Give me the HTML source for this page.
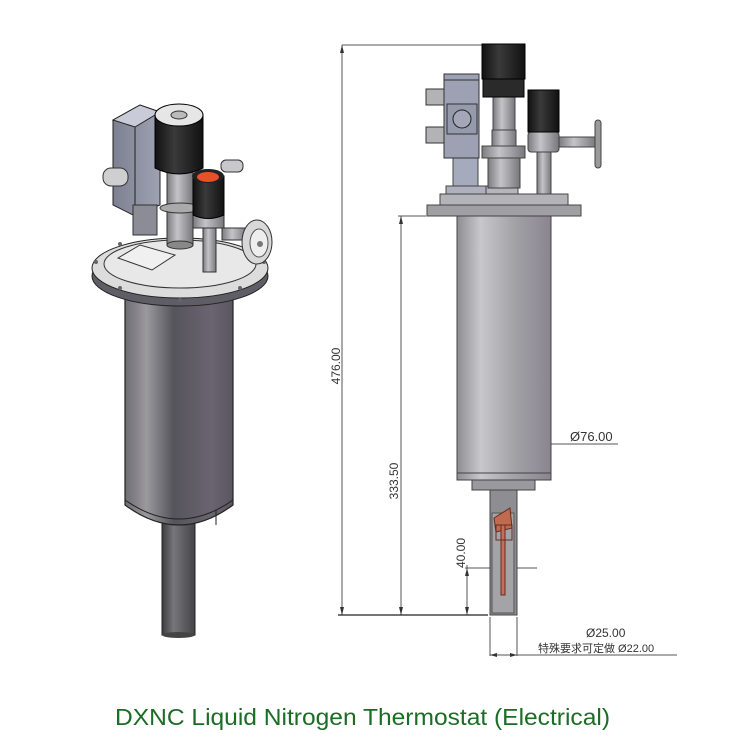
<!DOCTYPE html>
<html><head><meta charset="utf-8"><style>html,body{margin:0;padding:0;background:#fff;width:750px;height:750px;overflow:hidden}</style></head>
<body>
<svg width="750" height="750" viewBox="0 0 750 750" xmlns="http://www.w3.org/2000/svg">
<defs>
<linearGradient id="cyl" x1="0" x2="1"><stop offset="0" stop-color="#6e6d74"/><stop offset="0.2" stop-color="#9a999e"/><stop offset="0.45" stop-color="#55545b"/><stop offset="0.8" stop-color="#6a6470"/><stop offset="1" stop-color="#5a5560"/></linearGradient>
<linearGradient id="rod" x1="0" x2="1"><stop offset="0" stop-color="#3c3c40"/><stop offset="0.35" stop-color="#77777b"/><stop offset="1" stop-color="#444448"/></linearGradient>
<linearGradient id="cyl2" x1="0" x2="1"><stop offset="0" stop-color="#8d8d92"/><stop offset="0.25" stop-color="#c8c8cc"/><stop offset="0.6" stop-color="#a3a3a8"/><stop offset="1" stop-color="#8a8590"/></linearGradient>
<linearGradient id="knob" x1="0" x2="1"><stop offset="0" stop-color="#111"/><stop offset="0.4" stop-color="#3a3a3a"/><stop offset="1" stop-color="#111"/></linearGradient>
<linearGradient id="stem" x1="0" x2="1"><stop offset="0" stop-color="#7c7c80"/><stop offset="0.4" stop-color="#c4c4c8"/><stop offset="1" stop-color="#77777c"/></linearGradient>
<linearGradient id="box" x1="0" x2="1"><stop offset="0" stop-color="#7c8090"/><stop offset="1" stop-color="#9ea2b2"/></linearGradient>
</defs>

<!-- LEFT 3D -->
<rect x="162" y="500" width="33" height="135" fill="url(#rod)" stroke="#222" stroke-width="1"/>
<ellipse cx="178.5" cy="635" rx="16.5" ry="3" fill="#444"/>
<path d="M125 290 L125 505 Q179 545 233 505 L233 290 Z" fill="url(#cyl)" stroke="#222" stroke-width="1.2"/>
<path d="M125 500 Q179 538 233 500" fill="none" stroke="#222"/>
<line x1="216" y1="510" x2="216" y2="525" stroke="#222"/>
<!-- flange -->
<ellipse cx="180" cy="276" rx="88" ry="30" fill="#5f5e66" stroke="#222"/>
<ellipse cx="180" cy="268" rx="88" ry="30" fill="#dcdcdc" stroke="#222"/>
<ellipse cx="180" cy="264" rx="76" ry="24" fill="#e8e8e8" stroke="#333"/>
<g fill="#666"><circle cx="96" cy="262" r="2"/><circle cx="120" cy="288" r="2"/><circle cx="180" cy="300" r="2"/><circle cx="240" cy="288" r="2"/><circle cx="264" cy="262" r="2"/><circle cx="120" cy="244" r="2"/></g>
<path d="M118 258 L140 245 L175 255 L152 270 Z" fill="#f0f0f0" stroke="#333"/>
<!-- box -->
<path d="M113 120 L140 105 L160 112 L160 205 L133 215 L113 205 Z" fill="url(#box)" stroke="#222"/>
<path d="M113 120 L140 105 L160 112 L135 127 Z" fill="#c9ccd8" stroke="#222"/>
<line x1="135" y1="127" x2="135" y2="215" stroke="#222"/>
<rect x="103" y="168" width="25" height="18" rx="8" fill="#cfcfd2" stroke="#333"/>
<rect x="133" y="205" width="24" height="30" fill="#8b8c96" stroke="#333"/>
<!-- big knob -->
<rect x="167" y="170" width="26" height="75" fill="url(#stem)" stroke="#333"/>
<ellipse cx="180" cy="208" rx="20" ry="5" fill="#aaa" stroke="#333"/>
<ellipse cx="180" cy="245" rx="13" ry="4" fill="#888" stroke="#333"/>
<path d="M155 115 L155 168 Q179 180 203 168 L203 115 Z" fill="url(#knob)" stroke="#000"/>
<ellipse cx="179" cy="115" rx="24" ry="11" fill="#e6e6e6" stroke="#000"/>
<ellipse cx="179" cy="115" rx="8" ry="4" fill="#bbb" stroke="#333"/>
<!-- small knob -->
<rect x="221" y="160" width="22" height="12" rx="5" fill="#c8c8cc" stroke="#333"/>
<rect x="203" y="222" width="13" height="50" fill="url(#stem)" stroke="#333"/>
<rect x="193" y="200" width="31" height="28" fill="url(#stem)" stroke="#333"/>
<path d="M193 176 L193 215 Q208 222 224 215 L224 176 Z" fill="url(#knob)" stroke="#000"/>
<ellipse cx="208" cy="176" rx="16" ry="7" fill="#222"/>
<ellipse cx="208" cy="177" rx="11" ry="5" fill="#e8502a"/>
<rect x="222" y="228" width="25" height="12" fill="url(#stem)" stroke="#333"/>
<ellipse cx="257" cy="242" rx="15" ry="22" fill="#d8d8d8" stroke="#333"/>
<ellipse cx="259" cy="243" rx="9" ry="14" fill="#eee" stroke="#555"/>
<circle cx="260" cy="244" r="3" fill="#777"/>

<!-- RIGHT DRAWING -->
<g stroke="#555" stroke-width="1" fill="none">
<line x1="342" y1="45" x2="483" y2="45"/>
<line x1="342" y1="45" x2="342" y2="615"/>
<line x1="398" y1="216" x2="426" y2="216"/>
<line x1="401" y1="216" x2="401" y2="615"/>
<line x1="338" y1="615" x2="488" y2="615" stroke="#222" stroke-width="1.2"/>
<line x1="467" y1="565" x2="467" y2="615"/>
<line x1="465" y1="568" x2="537" y2="568"/>
<line x1="457" y1="444" x2="618" y2="444"/>
<line x1="490" y1="617" x2="490" y2="656"/>
<line x1="517" y1="617" x2="517" y2="656"/>
<line x1="490" y1="655" x2="677" y2="655"/>
</g>
<g fill="#333"><path d="M342 45 l-2 8 h4z"/><path d="M342 615 l-2 -8 h4z"/><path d="M401 216 l-2 8 h4z"/><path d="M401 615 l-2 -8 h4z"/><path d="M467 568 l-2 8 h4z"/><path d="M467 615 l-2 -8 h4z"/><path d="M457 444 l8 -2 v4z"/><path d="M490 655 l7 -2 v4z"/><path d="M517 655 l-7 -2 v4z"/></g>

<!-- main cylinder -->
<rect x="457" y="216" width="94" height="264" fill="url(#cyl2)" stroke="#444"/>
<line x1="457" y1="473" x2="551" y2="473" stroke="#444"/>
<rect x="472" y="480" width="63" height="10" fill="#9a9a9e" stroke="#444"/>
<rect x="490" y="490" width="27" height="125" fill="#8e8e92" stroke="#444"/>
<rect x="492" y="513" width="22" height="100" fill="#a4a4a8" stroke="#555"/>
<path d="M494 518 L510 508 L512 528 L496 532 Z" fill="#c06a50" stroke="#6a2a20"/>
<rect x="501" y="525" width="4" height="70" fill="#c27058" stroke="#6a2a20"/>
<rect x="496" y="525" width="16" height="15" fill="none" stroke="#6a2a20"/>
<!-- flange -->
<rect x="427" y="205" width="154" height="11" fill="#a0a0a4" stroke="#444"/>
<rect x="440" y="194" width="128" height="11" fill="#b4b4b8" stroke="#444"/>
<rect x="446" y="186" width="40" height="8" fill="#aeb0be" stroke="#444"/>
<rect x="486" y="186" width="32" height="8" fill="#b5b5bb" stroke="#444"/>
<!-- box -->
<rect x="453" y="158" width="25" height="28" fill="#a6aabd" stroke="#444"/>
<rect x="444" y="74" width="35" height="84" fill="#9da1b3" stroke="#333"/>
<line x1="444" y1="80" x2="479" y2="80" stroke="#333"/>
<rect x="447" y="104" width="30" height="30" fill="#959aac" stroke="#333"/>
<circle cx="462" cy="119" r="9" fill="#a3a7b8" stroke="#222"/>
<rect x="426" y="89" width="18" height="16" fill="#b3b3b6" stroke="#333"/>
<rect x="426" y="127" width="18" height="16" fill="#b3b3b6" stroke="#333"/>
<!-- big knob stack -->
<rect x="488" y="158" width="32" height="30" fill="url(#stem)" stroke="#444"/>
<rect x="482" y="146" width="43" height="12" fill="url(#stem)" stroke="#444"/>
<rect x="492" y="130" width="24" height="16" fill="url(#stem)" stroke="#444"/>
<rect x="493" y="97" width="22" height="33" fill="url(#stem)" stroke="#444"/>
<rect x="482" y="44" width="43" height="35" fill="url(#knob)" stroke="#000"/>
<rect x="483" y="79" width="41" height="18" fill="#2a2a2a" stroke="#000"/>
<!-- small knob -->
<rect x="537" y="150" width="14" height="44" fill="url(#stem)" stroke="#444"/>
<rect x="528" y="132" width="31" height="20" rx="3" fill="url(#stem)" stroke="#444"/>
<rect x="528" y="90" width="31" height="42" fill="url(#knob)" stroke="#000"/>
<rect x="559" y="137" width="37" height="10" fill="url(#stem)" stroke="#444"/>
<rect x="595" y="120" width="6" height="48" rx="3" fill="#999" stroke="#444"/>

<g font-family="Liberation Sans, sans-serif" font-size="12" fill="#333">
<text x="337" y="366" transform="rotate(-90 337 366)" text-anchor="middle" dominant-baseline="middle">476.00</text>
<text x="395" y="481" transform="rotate(-90 395 481)" text-anchor="middle" dominant-baseline="middle">333.50</text>
<text x="462" y="553" transform="rotate(-90 462 553)" text-anchor="middle" dominant-baseline="middle">40.00</text>
<text x="570" y="441" font-size="13">Ø76.00</text>
<text x="586" y="637">Ø25.00</text>
<text x="538" y="652" font-size="11" font-family="Liberation Sans, Noto Sans CJK SC, sans-serif">特殊要求可定做 Ø22.00</text>
</g>
<text x="115" y="725" font-family="Liberation Sans, sans-serif" font-size="23" fill="#1b6d25" textLength="495" lengthAdjust="spacingAndGlyphs">DXNC Liquid Nitrogen Thermostat (Electrical)</text>
</svg>
</body></html>
